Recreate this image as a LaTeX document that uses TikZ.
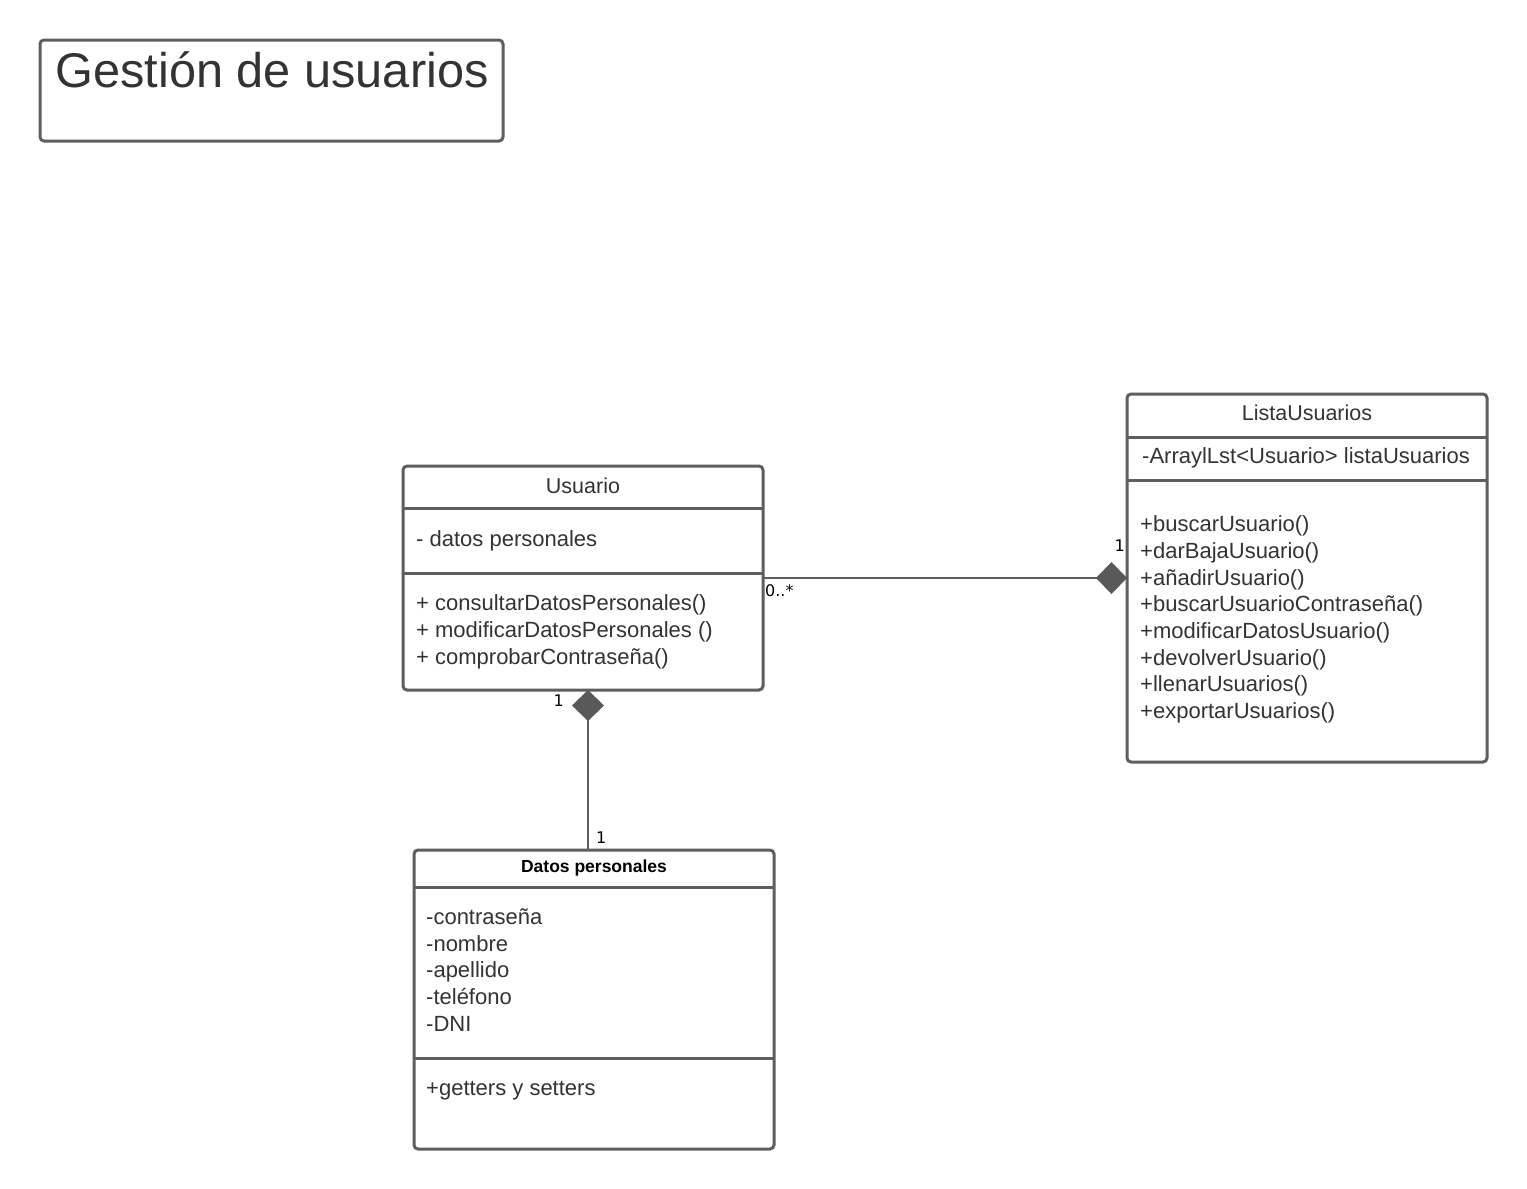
\documentclass[tikz,border=0pt]{standalone}
\usepackage{fontspec}
\setmainfont{Liberation Sans}
\newfontfamily\dejavu{DejaVu Sans}
\usetikzlibrary{arrows.meta}
\definecolor{boxgray}{HTML}{5E5E5E}
\definecolor{txtgray}{HTML}{333333}
\definecolor{diagray}{HTML}{595959}
\begin{document}
\begin{tikzpicture}[x=1pt,y=-1pt,
  classbox/.style={draw=boxgray,line width=3pt,rounded corners=4pt,anchor=north west,inner sep=0pt,outer sep=0pt},
  sepline/.style={draw=boxgray,line width=3pt},
  conn/.style={draw=boxgray,line width=2pt},
  comp/.style={-{Diamond[length=31pt,width=32pt,fill=diagray,color=diagray]}},
  body/.style={inner sep=0pt,anchor=base west,text=txtgray,font=\fontsize{22}{27}\selectfont},
  ctitle/.style={inner sep=0pt,anchor=base,text=txtgray,font=\fontsize{21.5}{26}\selectfont},
  mult/.style={inner sep=0pt,anchor=base west,text=black,font=\dejavu\fontsize{16}{18}\selectfont}]
\useasboundingbox (0,0) rectangle (1527,1189);
\fill[white] (0,0) rectangle (1527,1189);

% Title box
\node[classbox,minimum width=463pt,minimum height=101pt] (titlebox) at (40,40) {};
\node[inner sep=0pt,anchor=base,text=txtgray,font=\fontsize{48.7}{56}\selectfont] (titletext) at (272,87) {Gestión de usuarios};

% Usuario
\node[classbox,minimum width=360pt,minimum height=224pt] (usu) at (403,466) {};
\draw[sepline] (403,508) -- (763,508);
\draw[sepline] (403,573) -- (763,573);
\node[ctitle] (usuT) at (583,493) {Usuario};
\node[body] (usuA) at (416,546) {- datos personales};
\node[body,align=left,anchor=north west] (usuM) at (416,594.5) {+ consultarDatosPersonales()\\+ modificarDatosPersonales ()\\+ comprobarContraseña()};

% ListaUsuarios
\node[classbox,minimum width=360pt,minimum height=368pt] (lista) at (1127,394) {};
\draw[sepline] (1127,437) -- (1487,437);
\draw[sepline] (1127,480) -- (1487,480);
\node[ctitle] (listaT) at (1307,420) {ListaUsuarios};
\node[body] (listaA) at (1142,463) {-ArraylLst<Usuario> listaUsuarios};
\node[body,align=left,anchor=north west,font=\fontsize{22}{26.7}\selectfont] (listaM) at (1140,515.5) {+buscarUsuario()\\+darBajaUsuario()\\+añadirUsuario()\\+buscarUsuarioContraseña()\\+modificarDatosUsuario()\\+devolverUsuario()\\+llenarUsuarios()\\+exportarUsuarios()};

% Datos personales
\node[classbox,minimum width=360pt,minimum height=299pt] (dp) at (414,850) {};
\draw[sepline] (414,887) -- (774,887);
\draw[sepline] (414,1058) -- (774,1058);
\node[inner sep=0pt,anchor=base,text=black,font=\bfseries\fontsize{17.5}{20}\selectfont] (dpT) at (594,872) {Datos personales};
\node[body,align=left,anchor=north west,font=\fontsize{22}{26.7}\selectfont] (dpA) at (426,908.5) {-contraseña\\-nombre\\-apellido\\-teléfono\\-DNI};
\node[body] (dpM) at (426,1095) {+getters y setters};

% Connectors
\path (usu.south west) ++(185,0) coordinate (usuB);
\path (dp.north west) ++(174,0) coordinate (dpTop);
\draw[conn,comp] (usu.east) -- (lista.west);
\draw[conn,comp] (dpTop) -- (usuB);

% Multiplicities
\node[mult] (m1) at (765,596) {0..*};
\node[mult,anchor=base east] (m2) at (1125,551) {1};
\node[mult,anchor=base east] (m3) at (564,706) {1};
\node[mult] (m4) at (596,843) {1};
\end{tikzpicture}
\end{document}
